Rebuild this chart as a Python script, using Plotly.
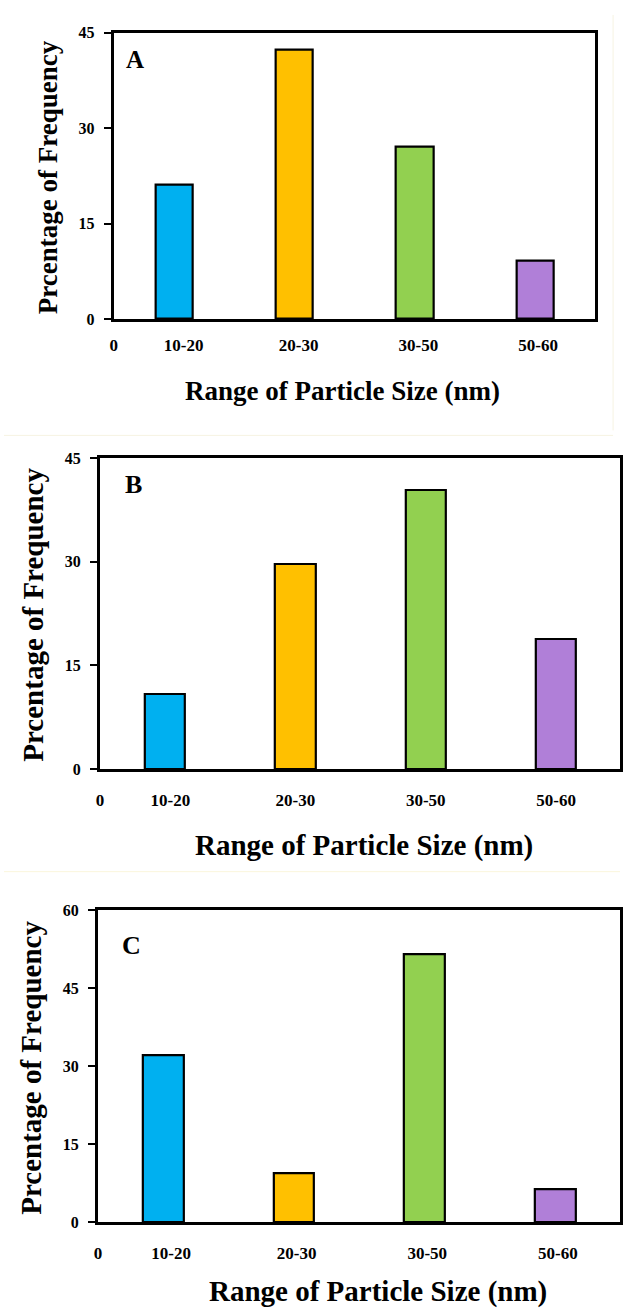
import plotly.graph_objects as go

# ---------------- data ----------------
categories = ["10-20", "20-30", "30-50", "50-60"]
freq_A = [21.1, 42.3, 27.1, 9.1]
freq_B = [10.8, 29.7, 40.3, 18.8]
freq_C = [32.2, 9.4, 51.5, 6.3]
bar_colors = ["#00B0F0", "#FFC000", "#92D050", "#B07FD8"]
yticks_AB = [0, 15, 30, 45]
yticks_C = [0, 15, 30, 45, 60]
panel_letters = ["A", "B", "C"]
x_title = "Range of Particle Size (nm)"
y_title = "Prcentage of Frequency"

W, H = 623, 1313
FONT = "Liberation Serif"


def px(x):
    return x / W


def py(y):
    return 1 - y / H


xpos = [i + 1 for i in range(len(categories))]

# panel geometry in pixels: left, right, top, bottom, x range end, y max
panels = [
    dict(l=111, r=598, t=25, b=315, xend=4.5, ymax=45, yt=yticks_AB, vals=freq_A,
         tickoff=[0.5, 1.08, 2.035, 3.03, 4.025], tl=9,
         xt=(342, 388, 27), ytl=(44, 172, 27), let=(132, 52, 25)),
    dict(l=97, r=623, t=456, b=771, xend=4.49, ymax=45, yt=yticks_AB, vals=freq_B,
         tickoff=[0.5, 1.04, 2.0, 3.0, 4.0], tl=14,
         xt=(364, 848, 29), ytl=(29, 615, 29), let=(131, 483, 26)),
    dict(l=95, r=623, t=914, b=1230, xend=4.495, ymax=60, yt=yticks_C, vals=freq_C,
         tickoff=[0.5, 1.06, 2.02, 3.02, 4.02], tl=14,
         xt=(378, 1300, 29), ytl=(27, 1074, 29), let=(129, 950, 26)),
]

fig = go.Figure()
annotations = []
for k, p in enumerate(panels):
    sfx = "" if k == 0 else str(k + 1)
    fig.add_trace(go.Bar(
        x=xpos, y=p["vals"], width=0.31,
        marker=dict(color=bar_colors, line=dict(color="black", width=2.2)),
        xaxis="x" + sfx, yaxis="y" + sfx, showlegend=False,
    ))
    xa = dict(
        domain=[px(p["l"]), min(1.0, px(p["r"]))], range=[0.5, p["xend"]],
        anchor="y" + sfx, showline=True, linecolor="black", linewidth=3, mirror=True,
        showgrid=False, zeroline=False,
        tickmode="array", tickvals=p["tickoff"], ticktext=["0"] + categories,
        ticks="outside", ticklen=p["tl"], tickcolor="rgba(0,0,0,0)",
        tickfont=dict(family=FONT, size=17, color="black", weight="bold"),
        fixedrange=True,
    )
    ya = dict(
        domain=[py(p["b"]), py(p["t"])], range=[0, p["ymax"]],
        anchor="x" + sfx, showline=True, linecolor="black", linewidth=3, mirror=True,
        showgrid=False, zeroline=False,
        tickmode="array", tickvals=p["yt"], ticktext=[str(v) for v in p["yt"]],
        ticks="outside", ticklen=7, tickwidth=1.5, tickcolor="black",
        ticklabelstandoff=6,
        tickfont=dict(family=FONT, size=16, color="black", weight="bold"),
        fixedrange=True,
    )
    fig.update_layout(**{"xaxis" + sfx: xa, "yaxis" + sfx: ya})

    cx, cy, fs = p["xt"]
    annotations.append(dict(text="<b>" + x_title + "</b>", x=px(cx), y=py(cy), xref="paper", yref="paper",
                            showarrow=False, xanchor="center", yanchor="middle",
                            font=dict(family=FONT, size=fs, color="black")))
    cx, cy, fs = p["ytl"]
    annotations.append(dict(text="<b>" + y_title + "</b>", x=px(cx), y=py(cy), xref="paper", yref="paper",
                            showarrow=False, xanchor="center", yanchor="middle", textangle=-90,
                            font=dict(family=FONT, size=fs, color="black")))
    cx, cy, fs = p["let"]
    annotations.append(dict(text="<b>" + panel_letters[k] + "</b>", x=px(cx), y=py(cy), xref="paper", yref="paper",
                            showarrow=False, xanchor="center", yanchor="middle",
                            font=dict(family=FONT, size=fs, color="black")))

shapes = [
    dict(type="line", xref="paper", yref="paper", x0=px(616), x1=px(616), y0=py(7), y1=py(428),
         line=dict(color="#F6F3E2", width=1)),
    dict(type="line", xref="paper", yref="paper", x0=0, x1=px(616), y0=py(433), y1=py(433),
         line=dict(color="#F6F3E2", width=1)),
    dict(type="line", xref="paper", yref="paper", x0=0, x1=1, y0=py(875), y1=py(875),
         line=dict(color="#FBF6DC", width=1)),
]

fig.update_layout(
    width=W, height=H, margin=dict(l=0, r=0, t=0, b=0),
    paper_bgcolor="white", plot_bgcolor="white",
    annotations=annotations, shapes=shapes, bargap=0,
)

fig.write_html("out.html")
